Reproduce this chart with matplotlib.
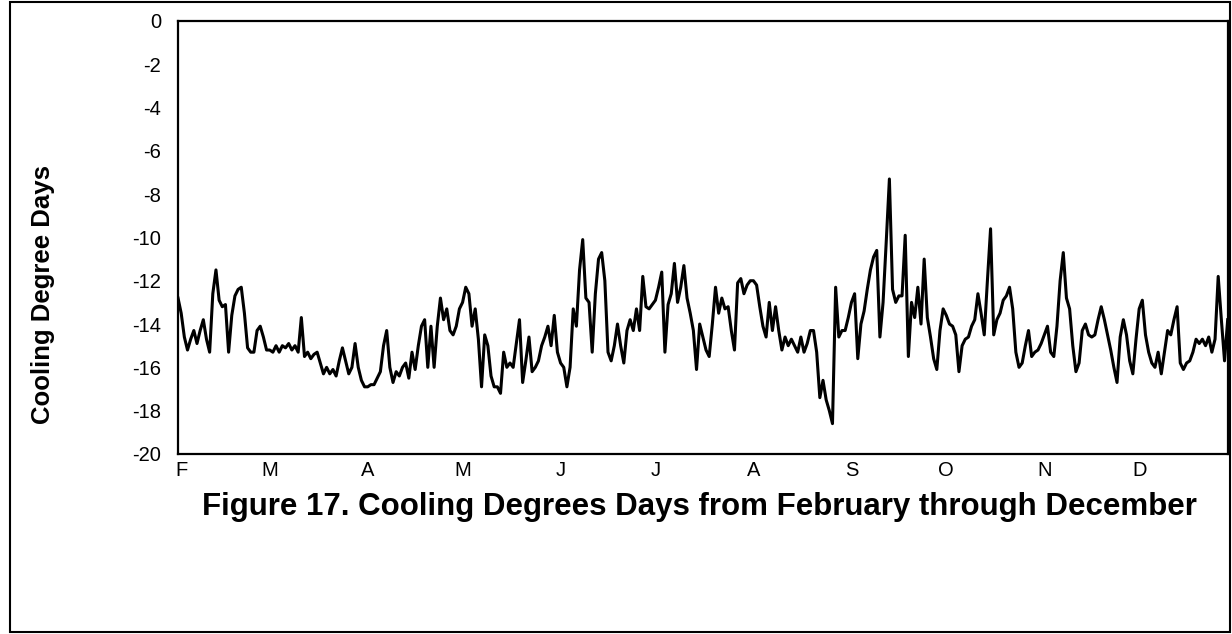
import matplotlib.pyplot as plt
import numpy as np
from matplotlib.patches import Rectangle

plt.rcParams['font.family'] = ['Liberation Sans', 'DejaVu Sans']

# daily cooling degree days, Feb 1 - Dec 31
cdd = [
    -12.8, -13.5, -14.6, -15.2, -14.7, -14.3, -14.9, -14.3, -13.8, -14.7,
    -15.3, -12.6, -11.5, -12.9, -13.2, -13.1, -15.3, -13.6, -12.7, -12.4,
    -12.3, -13.5, -15.1, -15.3, -15.3, -14.3, -14.1, -14.6, -15.2,
    -15.2, -15.3, -15.0, -15.3, -15.0, -15.1, -14.9, -15.2, -15.0, -15.3,
    -13.7, -15.5, -15.3, -15.6, -15.4, -15.3, -15.8, -16.3, -16.0, -16.3,
    -16.1, -16.4, -15.7, -15.1, -15.7, -16.3, -16.0, -14.9, -16.0, -16.6,
    -16.9, -16.9, -16.8, -16.8, -16.5, -16.2, -15.0, -14.3, -16.0, -16.7,
    -16.2, -16.4, -16.0, -15.8, -16.5, -15.3, -16.1, -15.0, -14.1, -13.8,
    -16.0, -14.1, -16.0, -14.1, -12.8, -13.8, -13.3, -14.3, -14.5, -14.1,
    -13.3, -13.0, -12.3, -12.6, -14.1, -13.3, -14.7, -16.9, -14.5, -15.0,
    -16.4, -16.9, -16.9, -17.2, -15.3, -16.0, -15.8, -16.0, -14.9, -13.8,
    -16.7, -15.7, -14.6, -16.2, -16.0, -15.7, -15.0, -14.6, -14.1, -15.0,
    -13.6, -15.3, -15.8, -16.0, -16.9, -16.0, -13.3, -14.1, -11.5, -10.1,
    -12.8, -13.0, -15.3, -12.6, -11.0, -10.7, -12.0, -15.3, -15.7, -15.0,
    -14.0, -15.0, -15.8, -14.3, -13.8, -14.3, -13.3, -14.3, -11.8, -13.2,
    -13.3, -13.1, -12.9, -12.3, -11.6, -15.3, -13.1, -12.6, -11.2, -13.0,
    -12.3, -11.3, -12.8, -13.5, -14.3, -16.1, -14.0, -14.6, -15.2, -15.5,
    -14.0, -12.3, -13.5, -12.8, -13.3, -13.2, -14.3, -15.2, -12.1, -11.9,
    -12.6, -12.2, -12.0, -12.0, -12.2, -13.2, -14.1, -14.6, -13.0, -14.3,
    -13.2, -14.3, -15.2, -14.6, -15.0, -14.7, -15.0, -15.3, -14.6, -15.3,
    -14.9, -14.3, -14.3, -15.3, -17.4, -16.6, -17.5, -18.0, -18.6, -12.3,
    -14.6, -14.3, -14.3, -13.7, -13.0, -12.6, -15.6, -14.0, -13.4, -12.4,
    -11.5, -10.9, -10.6, -14.6, -13.0, -10.2, -7.3, -12.4, -13.0, -12.7,
    -12.7, -9.9, -15.5, -13.0, -13.7, -12.3, -14.0, -11.0, -13.7, -14.6,
    -15.6, -16.1, -14.3, -13.3, -13.6, -14.0, -14.1, -14.5, -16.2, -15.0,
    -14.7, -14.6, -14.1, -13.8, -12.6, -13.5, -14.5, -12.0, -9.6, -14.5,
    -13.8, -13.5, -12.9, -12.7, -12.3, -13.3, -15.3, -16.0, -15.8, -15.0,
    -14.3, -15.5, -15.3, -15.2, -14.9, -14.5, -14.1, -15.3, -15.5, -14.1,
    -12.0, -10.7, -12.8, -13.3, -15.0, -16.2, -15.8, -14.3, -14.0, -14.5,
    -14.6, -14.5, -13.8, -13.2, -13.8, -14.5, -15.2, -16.0, -16.7, -14.6,
    -13.8, -14.5, -15.7, -16.3, -14.7, -13.3, -12.9, -14.5, -15.3, -15.8,
    -16.0, -15.3, -16.3, -15.3, -14.3, -14.5, -13.8, -13.2, -15.8, -16.1,
    -15.8, -15.7, -15.3, -14.7, -14.9, -14.7, -15.0, -14.6, -15.3, -14.7,
    -11.8, -13.8, -15.7, -13.8,
]

months = ['F', 'M', 'A', 'M', 'J', 'J', 'A', 'S', 'O', 'N', 'D']
month_days = [28, 31, 30, 31, 30, 31, 31, 30, 31, 30, 31]
yticks = list(range(0, -21, -2))

fig = plt.figure(figsize=(12.32, 6.34), dpi=100)
ax = fig.add_axes([0.1445, 0.284, 0.852, 0.683])

days = np.arange(len(cdd))
ax.plot(days, cdd, color='black', lw=2.2)

ax.set_xlim(0, len(cdd) - 1)
ax.set_ylim(-20, 0)
ax.set_yticks(yticks)
ax.set_yticklabels([str(t) for t in yticks], fontsize=14.5)

starts = np.concatenate([[0], np.cumsum(month_days)[:-1]])
ax.set_xticks(starts + 1)
ax.set_xticklabels(months, fontsize=14.5)
ax.tick_params(length=0)
ax.tick_params(axis='y', pad=12)
ax.tick_params(axis='x', pad=5)

for s in ax.spines.values():
    s.set_linewidth(1.6)

fig.text(0.035, 0.535, 'Cooling Degree Days', rotation=90, fontsize=18.5,
         fontweight='bold', ha='center', va='center')
fig.text(0.568, 0.200,
         'Figure 17. Cooling Degrees Days from February through December',
         fontsize=22.5, fontweight='bold', ha='center', va='center')

fig.patches.append(Rectangle((0.008, 0.003), 0.99, 0.994, transform=fig.transFigure,
                             fill=False, edgecolor='black', lw=1.5))

fig.savefig('out.png', dpi=100)
